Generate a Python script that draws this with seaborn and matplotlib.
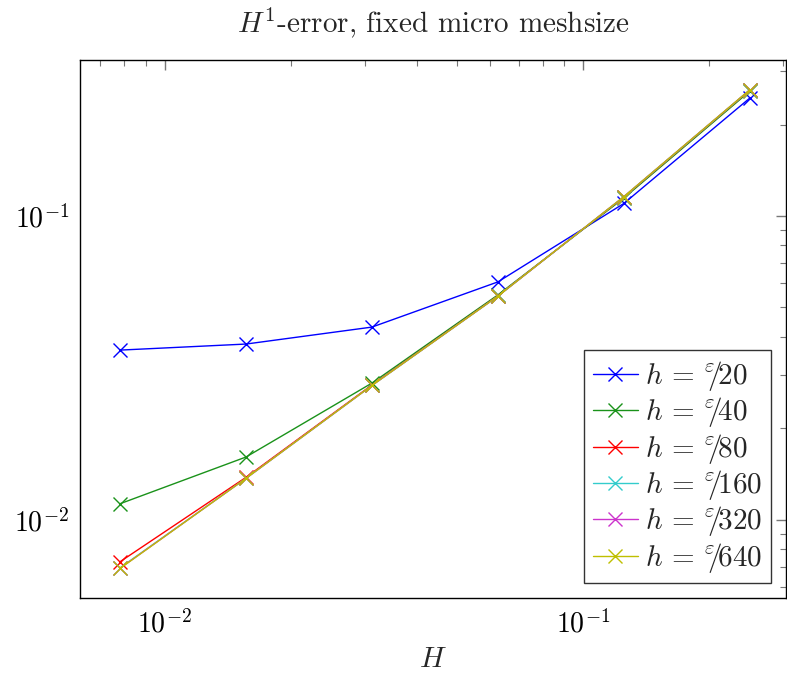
import numpy as np
import pandas as pd
import matplotlib
matplotlib.use("Agg")
import matplotlib.pyplot as plt
import seaborn as sns
from matplotlib.ticker import LogLocator, NullFormatter

# Macro mesh sizes H and H^1 errors for each micro mesh size h = eps/N
H = [1 / 128, 1 / 64, 1 / 32, 1 / 16, 1 / 8, 1 / 4]
err_20 = [0.0362, 0.0379, 0.0431, 0.0607, 0.1100, 0.2445]
err_40 = [0.0113, 0.0161, 0.0282, 0.0550, 0.1146, 0.2576]
err_80 = [0.00728, 0.0138, 0.0278, 0.0546, 0.1155, 0.2597]
err_160 = [0.00695, 0.0137, 0.0277, 0.0545, 0.1157, 0.2600]
err_320 = [0.00693, 0.0137, 0.0277, 0.0545, 0.1158, 0.2602]
err_640 = [0.00692, 0.0137, 0.0277, 0.0545, 0.1158, 0.2603]
divisors = ["20", "40", "80", "160", "320", "640"]
colors = ["#0000ff", "#1a921a", "#ff0000", "#33cccc", "#cc33cc", "#bfbf00"]

series = [err_20, err_40, err_80, err_160, err_320, err_640]
labels = [r"$h\,=\,{}^{\varepsilon}\!\!/\!\mathrm{%s}$" % d for d in divisors]
df = pd.concat(
    [pd.DataFrame({"H": H, "err": s, "h": lab}) for s, lab in zip(series, labels)],
    ignore_index=True,
)

sns.set_theme(style="white")
plt.rcParams["mathtext.fontset"] = "cm"
plt.rcParams["font.family"] = ["cmr10"]
plt.rcParams["axes.formatter.use_mathtext"] = True

fig = plt.figure(figsize=(7.87, 6.75), dpi=100)
ax = fig.add_axes([0.1017, 0.114, 0.8970, 0.797])

sns.lineplot(
    data=df, x="H", y="err", hue="h", hue_order=labels,
    palette=dict(zip(labels, colors)), marker="x", markersize=10,
    markeredgewidth=1.0, linewidth=1.0, ax=ax, legend=True,
)
# 'x' markers are drawn by their edge, so give them the line colour
for line in ax.get_lines():
    line.set_markeredgecolor(line.get_color())

ax.set_xscale("log")
ax.set_yscale("log")
ax.set_xlim(0.00627, 0.305)
ax.set_ylim(0.00553, 0.326)

for s in ax.spines.values():
    s.set_color("black")
    s.set_linewidth(1.0)

ax.xaxis.set_major_locator(LogLocator(base=10))
ax.yaxis.set_major_locator(LogLocator(base=10))
ax.xaxis.set_minor_locator(LogLocator(base=10, subs=np.arange(2, 10)))
ax.yaxis.set_minor_locator(LogLocator(base=10, subs=np.arange(2, 10)))
ax.xaxis.set_minor_formatter(NullFormatter())
ax.yaxis.set_minor_formatter(NullFormatter())
ax.tick_params(which="both", direction="in", top=True, right=True,
               colors="#777777", labelcolor="black", labelsize=20)
ax.tick_params(which="major", length=7, width=1.0, pad=8)
ax.tick_params(which="minor", length=4, width=0.8)

ax.set_xlabel(r"$H$", fontsize=21, labelpad=6)
ax.set_ylabel("")
ax.set_title(r"$H^1$-error, fixed micro meshsize", fontsize=21, pad=20)

leg = ax.legend(loc="lower right", fontsize=21, frameon=True, fancybox=False,
                borderaxespad=0.5, handlelength=1.55, labelspacing=0.08,
                borderpad=0.3, handletextpad=0.25)
leg.get_frame().set_edgecolor("black")
leg.get_frame().set_linewidth(1.0)
for lh in leg.get_lines():
    lh.set_markeredgecolor(lh.get_color())

fig.savefig("out.png", dpi=100)
